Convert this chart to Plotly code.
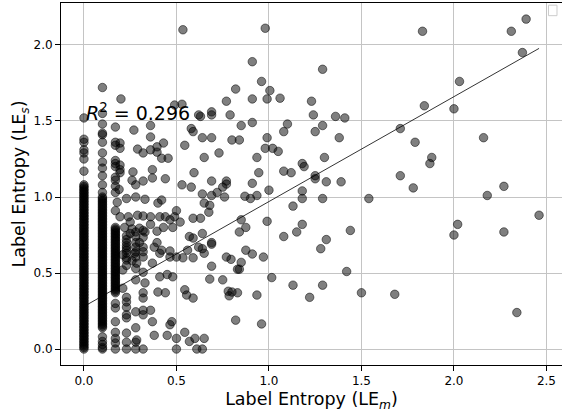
import plotly.graph_objects as go

# ---- data ----
# dense discrete columns (many overlapping points)
col0_x = 0.0
col0_y = [1.52, 1.38, 1.36, 1.31, 1.29, 1.25, 1.17,
          1.08, 1.07, 1.06, 1.05, 1.04, 1.03, 1.02, 1.01, 1.00, 0.99, 0.98, 0.97, 0.96,
          0.95, 0.94, 0.93, 0.92, 0.91, 0.90, 0.89, 0.88, 0.87, 0.86, 0.85, 0.84, 0.83,
          0.82, 0.81, 0.80, 0.79, 0.78, 0.77, 0.76, 0.75, 0.74, 0.73, 0.72, 0.71, 0.70,
          0.69, 0.68, 0.67, 0.66, 0.65, 0.64, 0.63, 0.62, 0.61, 0.60, 0.59, 0.58, 0.57,
          0.56, 0.55, 0.54, 0.53, 0.52, 0.51, 0.50, 0.49, 0.48, 0.47, 0.46, 0.45, 0.44,
          0.43, 0.42, 0.41, 0.40, 0.39, 0.38, 0.37, 0.36, 0.35, 0.34, 0.33, 0.32, 0.31,
          0.30, 0.29, 0.28, 0.27, 0.26, 0.25, 0.24, 0.23, 0.22, 0.21, 0.20, 0.19, 0.18,
          0.17, 0.16, 0.15, 0.14, 0.13, 0.12, 0.11, 0.10, 0.09, 0.08, 0.07, 0.06, 0.05,
          0.04, 0.03, 0.02, 0.01, 0.00]
col1_x = 0.1
col1_y = [1.72, 1.55, 1.48, 1.42, 1.41, 1.36, 1.29, 1.23, 1.19, 1.14, 1.08, 1.03,
          1.00, 0.99, 0.98, 0.97, 0.96, 0.95, 0.94, 0.93, 0.92, 0.91, 0.90, 0.89, 0.88,
          0.87, 0.86, 0.85, 0.84, 0.83, 0.82, 0.81, 0.80, 0.79, 0.78, 0.77, 0.76, 0.75,
          0.74, 0.73, 0.72, 0.71, 0.70, 0.69, 0.68, 0.67, 0.66, 0.65, 0.64, 0.63, 0.62,
          0.61, 0.60, 0.59, 0.58, 0.57, 0.56, 0.55, 0.54, 0.53, 0.52, 0.51, 0.50, 0.49,
          0.48, 0.47, 0.46, 0.45, 0.44, 0.43, 0.42, 0.41, 0.40, 0.39, 0.38, 0.37, 0.36,
          0.35, 0.34, 0.33, 0.32, 0.31, 0.30, 0.29, 0.28, 0.27, 0.26, 0.25, 0.24, 0.23,
          0.22, 0.21, 0.20, 0.19, 0.18, 0.17, 0.16, 0.15, 0.14,
          0.08, 0.05, 0.03, 0.01, 0.00]
col2_x = 0.17
col2_y = [1.46, 1.36, 1.34, 1.24, 1.22, 1.20, 1.13, 1.11, 1.07, 1.03, 0.91,
          0.80, 0.79, 0.78, 0.77, 0.76, 0.75, 0.74, 0.73, 0.72, 0.71, 0.70, 0.69, 0.68,
          0.67, 0.66, 0.65, 0.64, 0.63, 0.62, 0.61, 0.60, 0.59, 0.58, 0.57, 0.56, 0.55,
          0.54, 0.53, 0.52, 0.51, 0.50, 0.49, 0.48, 0.47, 0.46, 0.45, 0.44, 0.43, 0.42,
          0.41, 0.40, 0.39, 0.38, 0.37,
          0.30, 0.27, 0.18, 0.11, 0.07, 0.04, 0.00]

# scattered points
pts_x = [
    1.83, 2.31, 2.39, 2.37, 2.03, 1.84, 2.00, 1.71, 1.79, 2.16, 1.88, 1.87, 1.71, 1.78,
    2.27, 2.18, 1.54, 1.29, 1.38, 1.41, 1.36, 1.23, 1.24, 1.29, 1.25, 1.30, 1.18, 1.19,
    1.25, 1.25, 1.31, 1.39, 1.18, 1.18, 1.29, 1.13, 1.08, 1.12, 1.06, 1.08, 1.10, 1.05,
    1.08, 1.15, 1.18, 1.44, 1.31, 1.28, 1.42, 1.13, 1.29, 1.22, 1.50, 1.68, 2.00, 2.02,
    2.27, 2.46, 2.34,
    0.98, 0.535, 0.91, 0.96, 0.82, 1.005, 0.77, 0.91, 0.99, 0.69, 0.69, 0.63, 0.79, 0.91,
    0.85, 0.58, 0.59, 0.64, 0.69, 0.80, 0.84, 0.99, 0.98, 1.02, 0.73, 0.65, 0.935, 0.595,
    0.945, 0.69, 0.77, 0.77, 0.75, 0.91, 0.58, 1.00, 0.72, 0.64, 0.69, 0.76, 0.87, 0.90,
    0.935, 0.65, 0.68, 0.675, 0.59, 0.63, 0.85, 0.99, 0.875, 0.84, 0.64, 0.57, 0.56, 0.62,
    0.64, 0.69, 0.69, 0.65, 0.875, 0.91, 0.97, 0.77, 0.795, 0.85, 0.69, 0.83, 0.84, 1.015,
    0.68, 0.75, 0.78, 0.80, 0.785, 0.83, 0.935, 0.82, 0.96, 0.65, 0.57, 0.64, 0.61,
    0.20, 0.27, 0.36, 0.36, 0.195, 0.195, 0.29, 0.32, 0.36, 0.395, 0.395, 0.43, 0.42, 0.455,
    0.545, 0.49, 0.53, 0.62, 0.195, 0.195, 0.195, 0.265, 0.37, 0.37, 0.32, 0.44, 0.26, 0.28,
    0.53, 0.19, 0.18, 0.23, 0.28, 0.33, 0.42, 0.40, 0.50,
    0.195, 0.24, 0.29, 0.32, 0.36, 0.41, 0.44, 0.465, 0.49,
    0.22, 0.25, 0.26, 0.30, 0.33, 0.36, 0.395, 0.43, 0.48, 0.52,
    0.23, 0.23, 0.275, 0.32, 0.285, 0.37, 0.41, 0.465, 0.38, 0.395, 0.465, 0.50, 0.535,
    0.59, 0.42, 0.59,
    0.28, 0.28, 0.28, 0.28, 0.28, 0.28, 0.28, 0.28, 0.28,
    0.32, 0.32, 0.32, 0.32, 0.32, 0.32, 0.32, 0.32,
    0.23, 0.23, 0.23, 0.23, 0.23, 0.23, 0.23, 0.23, 0.23, 0.23, 0.23,
    0.41, 0.45, 0.48, 0.33, 0.32, 0.23, 0.285,
    0.36, 0.37, 0.38, 0.40, 0.44, 0.465, 0.475, 0.50, 0.45, 0.545, 0.555, 0.59, 0.545,
    0.60, 0.50,
    0.23, 0.23, 0.23, 0.28, 0.28, 0.32, 0.21, 0.21, 0.25, 0.26, 0.30, 0.23, 0.28, 0.21,
]
pts_y = [
    2.09, 2.09, 2.17, 1.95, 1.76, 1.60, 1.58, 1.45, 1.36, 1.39, 1.26, 1.22, 1.14, 1.06,
    1.07, 1.01, 0.99, 1.84, 1.39, 1.52, 1.53, 1.63, 1.54, 1.47, 1.43, 1.26, 1.22, 1.20,
    1.14, 1.12, 1.10, 1.10, 1.04, 0.99, 0.99, 0.94, 1.17, 1.16, 1.65, 1.43, 1.48, 1.30,
    0.74, 0.77, 0.82, 0.78, 0.72, 0.66, 0.51, 0.42, 0.42, 0.34, 0.37, 0.36, 0.75, 0.82,
    0.77, 0.88, 0.24,
    2.11, 2.10, 1.89, 1.76, 1.71, 1.70, 1.63, 1.645, 1.645, 1.56, 1.54, 1.53, 1.54, 1.49,
    1.47, 1.45, 1.43, 1.39, 1.39, 1.375, 1.375, 1.39, 1.32, 1.32, 1.29, 1.26, 1.26, 1.16,
    1.16, 1.105, 1.105, 1.085, 1.065, 1.09, 1.065, 1.045, 1.03, 1.02, 1.01, 1.00, 1.005, 0.99,
    1.01, 0.96, 0.945, 0.90, 0.86, 0.86, 0.85, 0.84, 0.80, 0.77, 0.76, 0.74, 0.65, 0.67,
    0.66, 0.70, 0.69, 0.63, 0.65, 0.625, 0.605, 0.605, 0.59, 0.57, 0.545, 0.525, 0.525, 0.47,
    0.46, 0.455, 0.38, 0.375, 0.35, 0.37, 0.355, 0.19, 0.165, 0.07, 0.05, 0.00, 0.00,
    1.645, 1.44, 1.47, 1.395, 1.355, 1.32, 1.315, 1.29, 1.31, 1.33, 1.295, 1.355, 1.255, 1.255,
    1.34, 1.605, 1.61, 1.54, 1.21, 1.18, 1.16, 1.165, 1.18, 1.125, 1.105, 1.12, 1.11, 1.08,
    1.08, 1.05, 0.965, 0.99, 1.00, 0.985, 0.98, 0.96, 0.91,
    0.87, 0.87, 0.88, 0.875, 0.87, 0.87, 0.87, 0.85, 0.87,
    0.80, 0.835, 0.79, 0.795, 0.77, 0.82, 0.775, 0.80, 0.80, 0.835,
    0.70, 0.65, 0.63, 0.605, 0.565, 0.565, 0.63, 0.605, 0.67, 0.70, 0.645, 0.605, 0.60,
    0.60, 0.65, 0.73,
    0.77, 0.64, 0.605, 0.53, 0.455, 0.245, 0.14, 0.045, 0.00,
    0.735, 0.67, 0.64, 0.505, 0.37, 0.335, 0.225, 0.00,
    0.665, 0.63, 0.34, 0.31, 0.275, 0.225, 0.105, 0.045, 0.00, 0.585, 0.745,
    0.475, 0.49, 0.475, 0.435, 0.255, 0.205, 0.06,
    0.255, 0.18, 0.09, 0.375, 0.37, 0.16, 0.18, 0.07, 0.09, 0.39, 0.355, 0.335, 0.11,
    0.07, 0.00,
    0.72, 0.68, 0.60, 0.70, 0.74, 0.78, 0.62, 0.52, 0.76, 0.58, 0.70, 0.55, 0.67, 0.40,
]

# regression line
fit_intercept = 0.28
fit_slope = 0.69
fit_x_end = 2.46
r2_text = "<i>R</i><sup>2</sup> = 0.296"

x_ticks = [0.0, 0.5, 1.0, 1.5, 2.0, 2.5]
y_ticks = [0.0, 0.5, 1.0, 1.5, 2.0]

# ---- build ----
all_x = [col0_x] * len(col0_y) + [col1_x] * len(col1_y) + [col2_x] * len(col2_y) + pts_x
all_y = col0_y + col1_y + col2_y + pts_y

FONT = "DejaVu Sans"
fig = go.Figure()
fig.add_trace(go.Scatter(
    x=all_x, y=all_y, mode="markers",
    marker=dict(size=8.5, color="rgba(0,0,0,0.5)",
                line=dict(color="rgba(0,0,0,0.5)", width=1)),
    showlegend=False, hoverinfo="skip"))
fig.add_trace(go.Scatter(
    x=[0.0, fit_x_end],
    y=[fit_intercept, fit_intercept + fit_slope * fit_x_end],
    mode="lines", line=dict(color="black", width=0.8),
    showlegend=False, hoverinfo="skip"))

fig.add_annotation(x=0.0, y=1.5, xref="x", yref="y", text=r2_text,
                   showarrow=False, xanchor="left", yanchor="bottom", yshift=-5,
                   font=dict(family=FONT, size=19, color="black"))

# empty legend box (upper right)
fig.add_shape(type="rect", xref="paper", yref="paper",
              x0=0.973, x1=0.990, y0=0.965, y1=0.994,
              line=dict(color="#cccccc", width=1), fillcolor="rgba(255,255,255,0.8)")

axis_common = dict(
    showgrid=True, gridcolor="#c4c4c4", gridwidth=1,
    zeroline=False, showline=True, linecolor="black", linewidth=1,
    ticks="outside", ticklen=5, tickcolor="black", tickwidth=1,
    tickfont=dict(family=FONT, size=12, color="black"),
    tickformat=".1f",
)
fig.update_layout(
    width=562, height=417,
    margin=dict(l=61, r=0, t=3, b=52),
    paper_bgcolor="white", plot_bgcolor="white",
    xaxis=dict(range=[-0.124, 2.584], tickvals=x_ticks, mirror=True,
               title=dict(text="Label Entropy (LE<sub><i>m</i></sub>)",
                          font=dict(family=FONT, size=17.5, color="black"), standoff=5),
               **axis_common),
    yaxis=dict(range=[-0.105, 2.276], tickvals=y_ticks,
               title=dict(text="Label Entropy (LE<sub><i>s</i></sub>)",
                          font=dict(family=FONT, size=17.5, color="black"), standoff=3),
               **axis_common),
)
fig.write_html("out.html")
